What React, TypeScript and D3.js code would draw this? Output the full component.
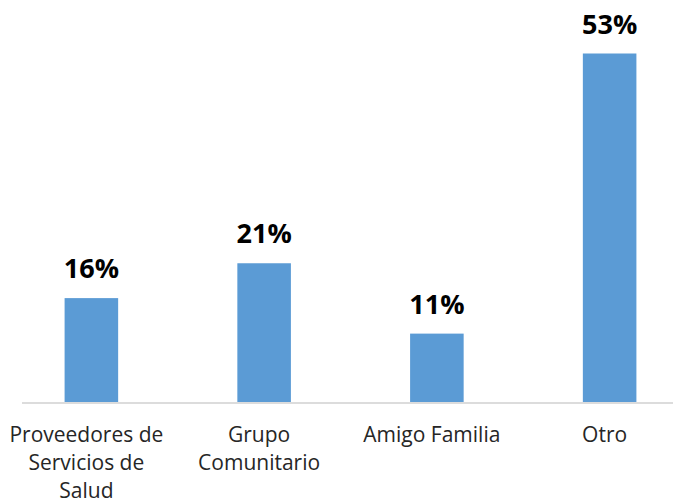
import React from "react";
import * as d3 from "d3";

const categories: string[][] = [
  ["Proveedores de", "Servicios de", "Salud"],
  ["Grupo", "Comunitario"],
  ["Amigo Familia"],
  ["Otro"],
];
const values: number[] = [15.8, 21.1, 10.4, 53];
const valueLabels: string[] = ["16%", "21%", "11%", "53%"];

export default function App() {
  const width = 678;
  const height = 501;
  const baseline = 402;
  const keys = categories.map((c) => c.join(" "));
  const x = d3.scaleBand<string>().domain(keys).range([5, 696]).paddingInner(0.69).paddingOuter(0.345);
  const y = d3.scaleLinear().domain([0, 53]).range([baseline, 53.5]);
  return (
    <svg width={width} height={height} style={{ position: "absolute", left: 0, top: 0 }}>
      <rect width={width} height={height} fill="#fff" />
      {values.map((v, i) => {
        const xs = x(keys[i])!;
        return (
          <g key={i}>
            <rect x={xs} y={y(v)} width={x.bandwidth()} height={baseline - y(v)} fill="#5B9BD5" />
            <text
              x={xs + x.bandwidth() / 2}
              y={y(v) - 20}
              textAnchor="middle"
              fontFamily="'Open Sans', sans-serif"
              fontWeight="bold"
              fontSize={27}
              fill="#000"
            >
              {valueLabels[i]}
            </text>
            {categories[i].map((line, j) => (
              <text
                key={j}
                x={xs + x.bandwidth() / 2 - 5}
                y={442 + j * 28}
                textAnchor="middle"
                fontFamily="'Open Sans', sans-serif"
                fontSize={21}
                fill="#262626"
              >
                {line}
              </text>
            ))}
          </g>
        );
      })}
      <line x1={22} x2={673} y1={403} y2={403} stroke="#D0D0D0" strokeWidth={1.5} />
    </svg>
  );
}
